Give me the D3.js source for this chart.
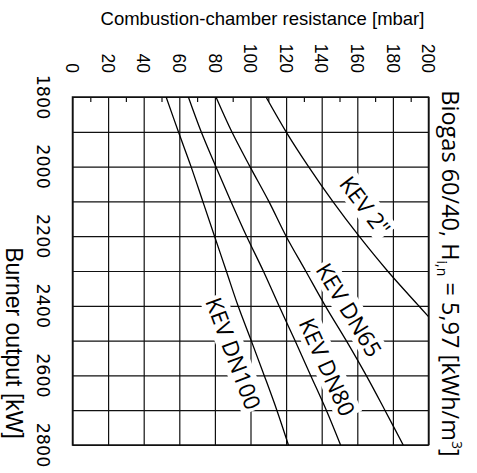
<!DOCTYPE html>
<html><head><meta charset="utf-8">
<script src="https://cdn.jsdelivr.net/npm/d3@7"></script>
<style>body{margin:0;background:#fff} svg{display:block}</style>
</head><body>
<svg id="chart" width="477" height="473"></svg>
<script>
// ---- data ----
const burnerOutput = [1800,1900,2000,2100,2200,2300,2400,2500,2600,2700,2800];   // kW
const kevDN100 = [52.6,59.5,66.6,73.2,79.8,86.4,93.0,100.4,107.7,114.8,121.3];   // mbar
const kevDN80  = [65.1,72.3,80.5,89.0,97.8,107.2,116.0,125.0,133.8,142.6,150.6];
const kevDN65  = [80.6,89.5,99.7,110.3,120.0,131.0,142.0,153.8,165.0,175.5,185.8];
const kev2Output = [1800,1900,2000,2100,2200,2300,2400,2431];
const kev2       = [108.7,120.0,132.6,146.2,161.0,177.0,194.5,200.0];
const seriesNames = ['KEV 2"', 'KEV DN65', 'KEV DN80', 'KEV DN100'];
const pressureTicks = [0,20,40,60,80,100,120,140,160,180,200];
const pressureMinor = [10,30,50,70,90,110,130,150,170,190];
const outputGrid = [1800,1900,2000,2100,2200,2300,2400,2500,2600,2700,2800];
const outputTicks = [1800,2000,2200,2400,2600,2800];
const titleTop = 'Combustion-chamber resistance [mbar]';
const titleLeft = 'Burner output [kW]';

// ---- build ----
const series = [
  {name: seriesNames[0], pts: kev2Output.map((k,i)=>({kw:k, p:kev2[i]}))},
  {name: seriesNames[1], pts: burnerOutput.map((k,i)=>({kw:k, p:kevDN65[i]}))},
  {name: seriesNames[2], pts: burnerOutput.map((k,i)=>({kw:k, p:kevDN80[i]}))},
  {name: seriesNames[3], pts: burnerOutput.map((k,i)=>({kw:k, p:kevDN100[i]}))}
];
// label placement in data units (centre of label)
const labelPlace = [
  {mbar:164.3, kw:2113},
  {mbar:155.3, kw:2412},
  {mbar:143.0, kw:2576},
  {mbar:90.3,  kw:2537}
];

const svg = d3.select('#chart');
const L = 72.5, R = 428.5, T = 97, B = 445;
const x = d3.scaleLinear().domain([0,200]).range([L,R]);
const y = d3.scaleLinear().domain([1800,2800]).range([T,B]);
const ink = '#111';
const labelFont = '"Open Sans", sans-serif';
const labelSize = 22.5;

svg.append('defs').append('clipPath').attr('id','plot')
  .append('rect').attr('x',L).attr('y',T).attr('width',R-L).attr('height',B-T);

// vertical grid
const gx = svg.append('g').attr('transform',`translate(0,${T})`)
  .call(d3.axisTop(x).tickValues(pressureTicks).tickSize(-(B-T)).tickFormat(''));
gx.select('.domain').remove();
gx.selectAll('line').attr('stroke',ink).attr('stroke-width',1.2);
// minor ticks on top edge
const gm = svg.append('g').attr('transform',`translate(0,${T})`)
  .call(d3.axisTop(x).tickValues(pressureMinor).tickSize(-5).tickFormat(''));
gm.select('.domain').remove();
gm.selectAll('line').attr('stroke',ink).attr('stroke-width',1.2);
// horizontal grid
const gy = svg.append('g').attr('transform',`translate(${L},0)`)
  .call(d3.axisLeft(y).tickValues(outputGrid).tickSize(-(R-L)).tickFormat(''));
gy.select('.domain').remove();
gy.selectAll('line').attr('stroke',ink).attr('stroke-width',1.2);

// frame
svg.append('rect').attr('x',L).attr('y',T).attr('width',R-L).attr('height',B-T)
  .attr('fill','none').attr('stroke',ink).attr('stroke-width',1.5);

// helpers
function segAt(s, kw){
  const pts = s.pts;
  for(let i=0;i<pts.length-1;i++){
    if(kw>=pts[i].kw && kw<=pts[i+1].kw) return [pts[i], pts[i+1]];
  }
  return [pts[pts.length-2], pts[pts.length-1]];
}

// label groups (white background first)
const labelG = series.map((s,i)=>{
  const [a,b] = segAt(s, labelPlace[i].kw);
  const ang = Math.atan2(y(b.kw)-y(a.kw), x(b.p)-x(a.p))*180/Math.PI;
  return svg.append('g')
    .attr('transform',`translate(${x(labelPlace[i].mbar)},${y(labelPlace[i].kw)}) rotate(${ang})`);
});
labelG.forEach((g,i)=>{
  const t = g.append('text').text(series[i].name)
    .attr('text-anchor','middle').attr('dy','0.36em')
    .attr('font-family',labelFont).attr('font-size',labelSize);
  const bb = t.node().getBBox();
  g.append('rect').attr('x',bb.x-2).attr('y',bb.y+2).attr('width',bb.width+4).attr('height',bb.height-4)
    .attr('fill','#fff');
  t.remove();
});

// lines
const line = d3.line().x(d=>x(d.p)).y(d=>y(d.kw)).curve(d3.curveCatmullRom.alpha(0.5));
svg.append('g').attr('clip-path','url(#plot)')
  .selectAll('path').data(series).join('path')
  .attr('d',d=>line(d.pts)).attr('fill','none').attr('stroke','#000').attr('stroke-width',1.3);

// label text on top
labelG.forEach((g,i)=>{
  g.raise();
  g.append('text').text(series[i].name)
    .attr('text-anchor','middle').attr('dy','0.36em')
    .attr('font-family',labelFont).attr('font-size',labelSize).attr('fill','#000');
});

// top tick labels
svg.append('g').selectAll('text').data(pressureTicks).join('text')
  .attr('transform',d=>`translate(${x(d)},73) rotate(90)`)
  .attr('text-anchor','end').attr('dy','0.36em')
  .attr('font-family','"Liberation Sans", Arial, sans-serif').attr('font-size',17.5)
  .text(d=>d);
// left tick labels
svg.append('g').selectAll('text').data(outputTicks).join('text')
  .attr('transform',d=>`translate(37,${y(d)}) rotate(90)`)
  .attr('text-anchor','middle')
  .attr('font-family','"DejaVu Sans", sans-serif').attr('font-size',17.5)
  .text(d=>d);

// titles
svg.append('text').attr('x',262.5).attr('y',25).attr('text-anchor','middle')
  .attr('font-family','"Liberation Sans", Arial, sans-serif').attr('font-size',18.5)
  .text(titleTop);
svg.append('text').attr('transform','translate(6,343) rotate(90)').attr('text-anchor','middle')
  .attr('font-family','"Liberation Sans", Arial, sans-serif').attr('font-size',23)
  .text(titleLeft);
const rt = svg.append('text').attr('transform','translate(442,273.5) rotate(90)').attr('text-anchor','middle')
  .attr('font-family',labelFont).attr('font-size',23.5);
rt.append('tspan').text('Biogas 60/40, H');
rt.append('tspan').attr('font-size',14).attr('dy',5).text('i,n');
rt.append('tspan').attr('dy',-5).text(' = 5,97 [kWh/m');
rt.append('tspan').attr('font-size',14).attr('dy',-9.5).text('3');
rt.append('tspan').attr('dy',9.5).text(']');
</script>
</body></html>
